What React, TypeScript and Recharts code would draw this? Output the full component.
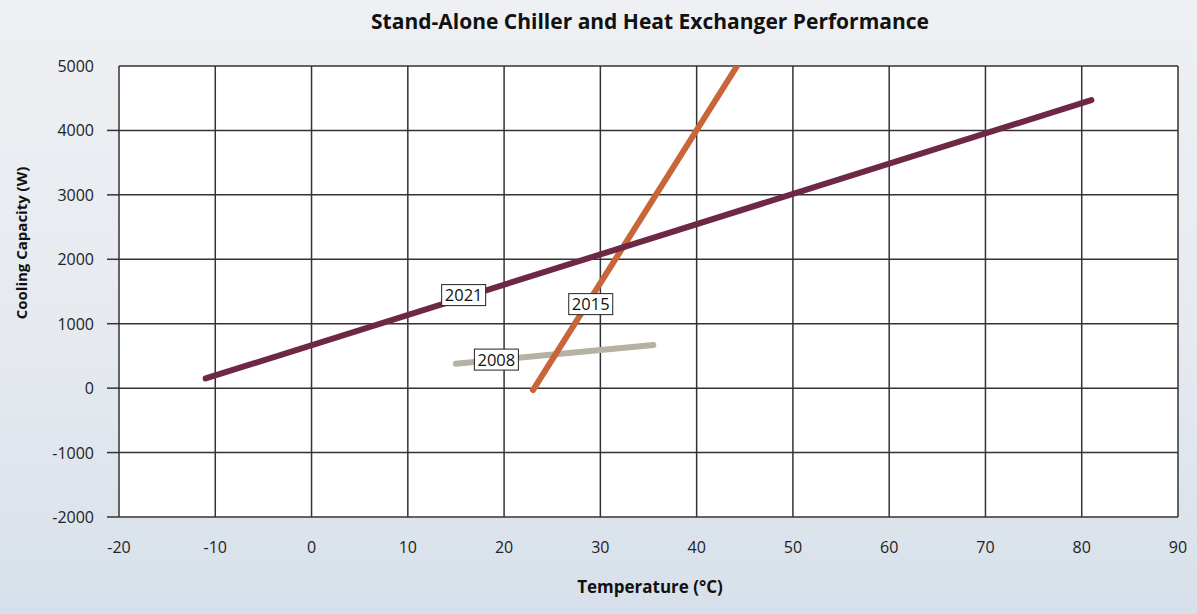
import { LineChart, Line, XAxis, YAxis, CartesianGrid, ReferenceDot } from 'recharts'

const xTicks = [-20, -10, 0, 10, 20, 30, 40, 50, 60, 70, 80, 90]
const yTicks = [-2000, -1000, 0, 1000, 2000, 3000, 4000, 5000]

// endpoints of each straight performance line
const temps2021 = [-11, 81]
const caps2021 = [150, 4470]
const temps2015 = [23, 44.2]
const caps2015 = [-30, 5000]
const temps2008 = [15, 35.5]
const caps2008 = [380, 670]

const toPoints = (t: number[], c: number[]) => t.map((v, i) => ({ t: v, c: c[i] }))

const data2021 = toPoints(temps2021, caps2021)
const data2015 = toPoints(temps2015, caps2015)
const data2008 = toPoints(temps2008, caps2008)

// label boxes: [year, temp, capacity]
const tags: [string, number, number][] = [
  ['2021', 15.8, 1444],
  ['2015', 29.0, 1304],
  ['2008', 19.2, 443],
]

const font = '"Open Sans", "DejaVu Sans", sans-serif'

function YTick({ x, y, payload }: any) {
  return (
    <g>
      {payload.value !== 5000 && (
        <line x1={x - 12} x2={x} y1={y} y2={y} stroke="#333" strokeWidth={1.5} />
      )}
      <text x={x - 25} y={y} dy={6} textAnchor="end" fontSize={16} fill="#222" fontFamily={font}>
        {payload.value}
      </text>
    </g>
  )
}

function Tag({ cx, cy, text }: any) {
  const w = 44
  const h = 21
  return (
    <g>
      <rect x={cx - w / 2} y={cy - h / 2} width={w} height={h} fill="#fff" stroke="#222" strokeWidth={1} />
      <text x={cx} y={cy} dy={6} textAnchor="middle" fontSize={16.5} fill="#111" fontFamily={font}>
        {text}
      </text>
    </g>
  )
}

export default function App() {
  return (
    <div
      style={{
        position: 'absolute',
        left: 0,
        top: 0,
        width: 1197,
        height: 614,
        overflow: 'hidden',
        fontFamily: font,
        background: 'linear-gradient(180deg, #eef0f3 0%, #e6eaef 55%, #d7e0ea 100%)',
      }}
    >
      <div
        style={{
          position: 'absolute',
          top: 7,
          left: 0,
          width: 1300,
          textAlign: 'center',
          fontSize: 21,
          fontWeight: 700,
          color: '#111',
        }}
      >
        Stand-Alone Chiller and Heat Exchanger Performance
      </div>
      <div
        style={{
          position: 'absolute',
          left: 21,
          top: 243,
          transform: 'translate(-50%, -50%) rotate(-90deg)',
          whiteSpace: 'nowrap',
          fontSize: 15,
          fontWeight: 700,
          color: '#111',
        }}
      >
        Cooling Capacity (W)
      </div>
      <div
        style={{
          position: 'absolute',
          left: 650,
          top: 586,
          transform: 'translate(-50%, -50%)',
          whiteSpace: 'nowrap',
          fontSize: 17,
          fontWeight: 700,
          color: '#111',
        }}
      >
        Temperature (°C)
      </div>
      <LineChart
        width={1197}
        height={614}
        margin={{ top: 66, right: 19, bottom: 67, left: 39 }}
        style={{ position: 'absolute', left: 0, top: 0 }}
      >
        <CartesianGrid fill="#fff" stroke="#333" strokeWidth={1.5} strokeOpacity={1} />
        <XAxis
          type="number"
          dataKey="t"
          domain={[-20, 90]}
          ticks={xTicks}
          allowDataOverflow
          height={30}
          axisLine={false}
          tickLine={false}
          tickSize={0}
          tickMargin={25}
          tick={{ fontSize: 16, fill: '#222', fontFamily: font }}
        />
        <YAxis
          type="number"
          domain={[-2000, 5000]}
          ticks={yTicks}
          allowDataOverflow
          width={80}
          axisLine={false}
          tickLine={false}
          tickSize={0}
          tickMargin={0}
          tick={<YTick />}
        />
        <Line
          data={data2008}
          dataKey="c"
          stroke="#b5b2a4"
          strokeWidth={6}
          strokeLinecap="round"
          dot={false}
          isAnimationActive={false}
        />
        <Line
          data={data2015}
          dataKey="c"
          stroke="#c8663a"
          strokeWidth={6}
          strokeLinecap="round"
          dot={false}
          isAnimationActive={false}
        />
        <Line
          data={data2021}
          dataKey="c"
          stroke="#6c2844"
          strokeWidth={6}
          strokeLinecap="round"
          dot={false}
          isAnimationActive={false}
        />
        {tags.map(([year, t, c]) => (
          <ReferenceDot key={year} x={t} y={c} shape={(p: any) => <Tag {...p} text={year} />} />
        ))}
      </LineChart>
    </div>
  )
}
